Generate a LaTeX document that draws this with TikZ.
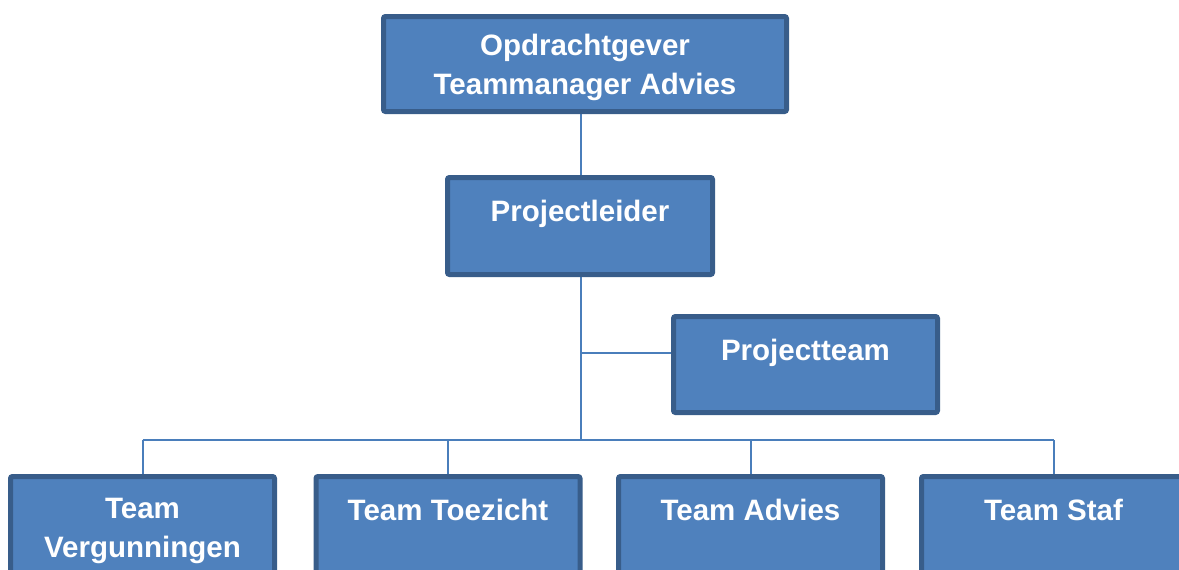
\documentclass[tikz,border=0pt]{standalone}
\usepackage{fontspec}
\setmainfont{Liberation Sans}
\usetikzlibrary{calc,backgrounds}
\definecolor{boxfill}{HTML}{4F81BD}
\definecolor{boxline}{HTML}{385D8A}
\definecolor{linkline}{HTML}{4A7EBB}
\tikzset{
    teambox/.style={draw=boxline,fill=boxfill,line width=5pt,rounded corners=2pt,
      minimum width=264pt,minimum height=96pt,inner sep=0pt},
    boxtext/.style={text=white,font=\bfseries\fontsize{29.5}{38.5}\selectfont,
      align=center,inner sep=0pt,anchor=north},
    link/.style={draw=linkline,line width=2pt},
  }
\begin{document}
\begin{tikzpicture}[x=1pt,y=-1pt]
				  \useasboundingbox (0,0) rectangle (1179,570);
				  \clip (0,0) rectangle (1179,570);
				  
				  %TOP
				  \node[teambox,minimum width=403pt,minimum height=95pt,
				    label={[boxtext,name=topt,yshift=-20pt]north:{Opdrachtgever\\Teammanager Advies}}] (top) at (585,64) {};
				  \node[teambox,minimum width=265pt,minimum height=97pt,
				    label={[boxtext,name=plt,yshift=-24.5pt]north:Projectleider}] (pl) at (580,226) {};
				  \node[teambox,label={[boxtext,name=ptt,yshift=-25pt]north:Projectteam}] (pt) at (805.5,364.5) {};
				  
				  %TEAMS
				  \node[teambox,minimum height=140pt,
				    label={[boxtext,name=tvt,yshift=-24pt]north:{Team\\Vergunningen}}] (tv) at (142.5,546.5) {};
				  \node[teambox,minimum height=140pt,
				    label={[boxtext,name=ttt,yshift=-24.5pt]north:Team Toezicht}] (tt) at (448,546.5) {};
				  \node[teambox,minimum height=140pt,
				    label={[boxtext,name=tat,yshift=-24.5pt]north:Team Advies}] (ta) at (750.5,546.5) {};
				  \node[teambox,minimum height=140pt,
				    label={[boxtext,name=tst,yshift=-24.5pt]north:Team Staf}] (ts) at (1053.5,546.5) {};
				  
				  %LIJNEN
				  \coordinate (tap) at (581,353);
				  \coordinate (hub) at (581,440);
				  \begin{scope}[on background layer]
				    \draw[link] (tap |- top.south) -- (tap |- pl.north);
				    \draw[link] (tap |- pl.south) -- (hub);
				    \draw[link] (tap) -- (tap -| pt.west);
				    \draw[link] (hub -| tv.north) -- (hub -| ts.north);
				    \foreach \b in {tv,tt,ta,ts}
				      \draw[link] (\b.north) -- (hub -| \b.north);
				  \end{scope}
				  \end{tikzpicture}
\end{document}
